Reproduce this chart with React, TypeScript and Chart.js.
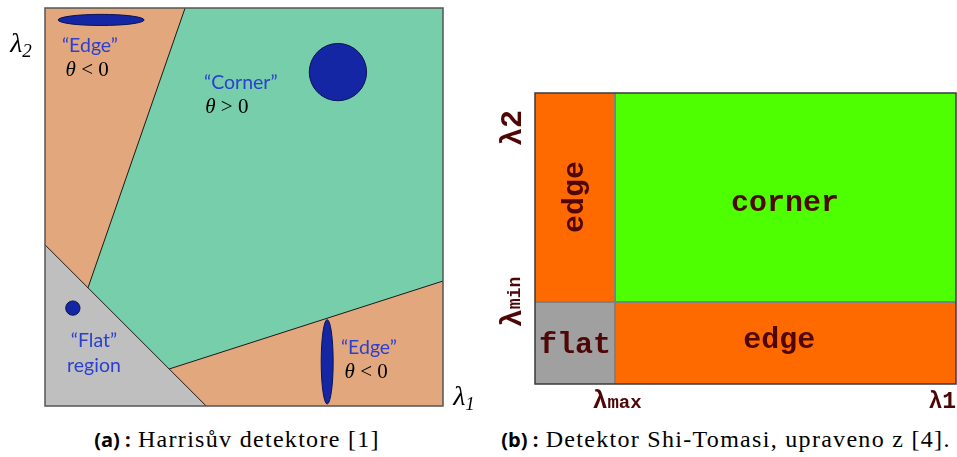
import React, { useEffect, useRef } from "react";
import { Chart, registerables } from "chart.js";
Chart.register(...registerables);

// ---------- Panel (a): Harris regions in (λ1, λ2) space, 0–100 units ----------
const harrisFrame = [[0, 0], [100, 0], [100, 100], [0, 100]];
const harrisCornerRegion = [[35.2, 100], [100, 100], [100, 31.4], [31.2, 9.3], [10.8, 29.7]];
const harrisFlatRegion = [[0, 40.5], [40.5, 0], [0, 0]];
const harrisCornerOutlineA = [[35.2, 100], [10.8, 29.7]];
const harrisCornerOutlineB = [[31.2, 9.3], [100, 31.4]];
const harrisFlatOutline = [[0, 40.5], [40.5, 0]];
// ellipses (centre, half-axes in data units)
const harrisEllipseX = [14.1, 73.6, 7.0, 70.9];
const harrisEllipseY = [97.0, 83.9, 24.6, 11.1];
const harrisEllipseRx = [10.8, 7.2, 1.8, 1.5];
const harrisEllipseRy = [1.4, 7.2, 1.8, 10.6];
// labels
const harrisLabelText = ["\u201CEdge\u201D", "\u201CCorner\u201D", "\u201CFlat\u201D", "region", "\u201CEdge\u201D"];
const harrisLabelX = [11.3, 49.2, 12.3, 12.3, 81.4];
const harrisLabelY = [90.5, 81.2, 16.3, 10.0, 14.6];
const harrisThetaText = ["< 0", "> 0", "< 0"];
const harrisThetaX = [10.6, 45.7, 80.7];
const harrisThetaY = [84.4, 75.1, 8.5];

// ---------- Panel (b): Shi-Tomasi regions ----------
const lambdaMax = 19.0;
const lambdaMin = 28.2;
const stRegionName = ["edge", "corner", "flat", "edge"];
const stRegionX0 = [0, lambdaMax, 0, lambdaMax];
const stRegionX1 = [lambdaMax, 100, lambdaMax, 100];
const stRegionY0 = [lambdaMin, lambdaMin, 0, 0];
const stRegionY1 = [100, 100, lambdaMin, lambdaMin];
const stRegionColor = ["#FF6A00", "#4DFF00", "#A0A0A0", "#FF6A00"];
const stLabelX = [9.5, 59.4, 9.5, 58.0];
const stLabelY = [64.3, 62.2, 13.4, 14.8];
const stXTickValue = [lambdaMax, 100];
const stXTickSub = ["max", "1"];
const stYTickValue = [lambdaMin, 88];
const stYTickSub = ["min", "2"];

type Run = { t: string; font: string; dy?: number };
function drawRuns(ctx: CanvasRenderingContext2D, runs: Run[], x: number, y: number, color: string, align = "center", rot = 0) {
  ctx.save();
  ctx.translate(x, y);
  if (rot) ctx.rotate(rot);
  ctx.fillStyle = color;
  ctx.textBaseline = "middle";
  ctx.textAlign = "left";
  let w = 0;
  runs.forEach((r) => { ctx.font = r.font; w += ctx.measureText(r.t).width; });
  let cx = align === "center" ? -w / 2 : align === "right" ? -w : 0;
  runs.forEach((r) => { ctx.font = r.font; ctx.fillText(r.t, cx, r.dy || 0); cx += ctx.measureText(r.t).width; });
  ctx.restore();
}

const polyFillPlugin = {
  id: "polyFill",
  beforeDatasetsDraw(chart: any) {
    const ctx = chart.ctx;
    chart.data.datasets.forEach((ds: any, i: number) => {
      if (!ds.fillColor) return;
      const meta = chart.getDatasetMeta(i);
      ctx.save();
      ctx.beginPath();
      meta.data.forEach((p: any, j: number) => (j ? ctx.lineTo(p.x, p.y) : ctx.moveTo(p.x, p.y)));
      ctx.closePath();
      ctx.fillStyle = ds.fillColor;
      ctx.fill();
      ctx.restore();
    });
  },
};

const toPts = (arr: number[][]) => arr.map(([x, y]) => ({ x, y }));

const baseOptions = (padding: any) => ({
  responsive: false,
  animation: false as const,
  devicePixelRatio: 1,
  layout: { padding },
  plugins: { legend: { display: false }, tooltip: { enabled: false } },
  scales: {
    x: { type: "linear" as const, min: 0, max: 100, display: false },
    y: { type: "linear" as const, min: 0, max: 100, display: false },
  },
});

const fillDs = (pts: number[][], color: string) => ({
  data: toPts(pts), fillColor: color, showLine: false, pointRadius: 0, clip: false,
});
const lineDs = (pts: number[][], color: string, width: number) => ({
  data: toPts(pts), showLine: true, borderColor: color, borderWidth: width, pointRadius: 0, fill: false, clip: false,
});

const harrisPlugin = {
  id: "harrisDecor",
  afterDatasetsDraw(chart: any) {
    const ctx = chart.ctx;
    const xs = chart.scales.x, ys = chart.scales.y;
    const a = chart.chartArea;
    // ellipses
    harrisEllipseX.forEach((ex, i) => {
      const cx = xs.getPixelForValue(ex), cy = ys.getPixelForValue(harrisEllipseY[i]);
      const rx = Math.abs(xs.getPixelForValue(ex + harrisEllipseRx[i]) - cx);
      const ry = Math.abs(ys.getPixelForValue(harrisEllipseY[i] + harrisEllipseRy[i]) - cy);
      ctx.save();
      ctx.beginPath();
      ctx.ellipse(cx, cy, rx, ry, 0, 0, Math.PI * 2);
      ctx.fillStyle = "#1426A3";
      ctx.fill();
      ctx.lineWidth = 1;
      ctx.strokeStyle = "#0B1450";
      ctx.stroke();
      ctx.restore();
    });
    // frame
    ctx.save();
    ctx.strokeStyle = "#555555";
    ctx.lineWidth = 1.5;
    ctx.strokeRect(a.left, a.top, a.right - a.left, a.bottom - a.top);
    ctx.restore();
    // labels
    harrisLabelText.forEach((t, i) => {
      drawRuns(ctx, [{ t, font: '19.5px Lato' }], xs.getPixelForValue(harrisLabelX[i]), ys.getPixelForValue(harrisLabelY[i]), "#2B40D0");
    });
    harrisThetaText.forEach((t, i) => {
      drawRuns(ctx, [
        { t: "\u03B8", font: 'italic 21px "Liberation Serif"' },
        { t: " " + t, font: '21px "Liberation Serif"' },
      ], xs.getPixelForValue(harrisThetaX[i]), ys.getPixelForValue(harrisThetaY[i]), "#000");
    });
    // axis labels λ2 and λ1
    drawRuns(ctx, [
      { t: "\u03BB", font: 'italic 28px "Liberation Serif"' },
      { t: "2", font: 'italic 19px "Liberation Serif"', dy: 7 },
    ], a.left - 24, ys.getPixelForValue(90.7), "#000");
    drawRuns(ctx, [
      { t: "\u03BB", font: 'italic 28px "Liberation Serif"' },
      { t: "1", font: 'italic 19px "Liberation Serif"', dy: 7 },
    ], a.right + 21, a.bottom - 8, "#000");
  },
};

const stPlugin = {
  id: "stDecor",
  afterDatasetsDraw(chart: any) {
    const ctx = chart.ctx;
    const xs = chart.scales.x, ys = chart.scales.y;
    const a = chart.chartArea;
    ctx.save();
    ctx.strokeStyle = "#3A3A3A";
    ctx.lineWidth = 1.5;
    ctx.strokeRect(a.left, a.top, a.right - a.left, a.bottom - a.top);
    ctx.restore();
    const col = "#4E0606";
    const big = 'bold 30px "Liberation Mono"';
    stRegionName.forEach((t, i) => {
      drawRuns(ctx, [{ t, font: big }], xs.getPixelForValue(stLabelX[i]), ys.getPixelForValue(stLabelY[i]), col, "center", i === 0 ? -Math.PI / 2 : 0);
    });
    // x tick labels
    stXTickValue.forEach((v, i) => {
      const small = stXTickSub[i] === "1";
      drawRuns(ctx, [
        { t: "\u03BB", font: small ? 'bold 23px "Liberation Mono"' : 'bold 25px "Liberation Mono"' },
        { t: stXTickSub[i], font: small ? 'bold 23px "Liberation Mono"' : 'bold 19px "Liberation Mono"', dy: small ? 0 : 1 },
      ], xs.getPixelForValue(v) + (i === 1 ? 0 : 2), a.bottom + 18, col, i === 1 ? "right" : "center");
    });
    // y tick labels (rotated)
    stYTickValue.forEach((v, i) => {
      const same = stYTickSub[i] === "2";
      drawRuns(ctx, [
        { t: "\u03BB", font: 'bold 30px "Liberation Mono"' },
        { t: stYTickSub[i], font: same ? 'bold 30px "Liberation Mono"' : 'bold 18px "Liberation Mono"', dy: same ? 0 : 2 },
      ], a.left - 22, ys.getPixelForValue(v), col, "center", -Math.PI / 2);
    });
  },
};

function HarrisChart() {
  const ref = useRef<HTMLCanvasElement>(null);
  useEffect(() => {
    const chart = new Chart(ref.current as HTMLCanvasElement, {
      type: "scatter",
      data: {
        datasets: [
          fillDs(harrisFrame, "#E2A77D"),
          fillDs(harrisCornerRegion, "#76CEAB"),
          fillDs(harrisFlatRegion, "#BFBFBF"),
          lineDs(harrisCornerOutlineA, "#1A1A1A", 1),
          lineDs(harrisCornerOutlineB, "#1A1A1A", 1),
          lineDs(harrisFlatOutline, "#1A1A1A", 1),
        ] as any,
      },
      options: baseOptions({ left: 45, top: 8, right: 37, bottom: 14 }) as any,
      plugins: [polyFillPlugin, harrisPlugin],
    });
    return () => chart.destroy();
  }, []);
  return <canvas ref={ref} width={480} height={420} style={{ position: "absolute", left: 0, top: 0 }} />;
}

function ShiTomasiChart() {
  const ref = useRef<HTMLCanvasElement>(null);
  useEffect(() => {
    const regions = stRegionName.map((_, i) =>
      fillDs([
        [stRegionX0[i], stRegionY0[i]], [stRegionX1[i], stRegionY0[i]],
        [stRegionX1[i], stRegionY1[i]], [stRegionX0[i], stRegionY1[i]],
      ], stRegionColor[i])
    );
    const chart = new Chart(ref.current as HTMLCanvasElement, {
      type: "scatter",
      data: {
        datasets: [
          ...regions,
          lineDs([[lambdaMax, 0], [lambdaMax, 100]], "#808080", 2),
          lineDs([[0, lambdaMin], [100, lambdaMin]], "#808080", 2),
        ] as any,
      },
      options: baseOptions({ left: 55, top: 23, right: 1, bottom: 36 }) as any,
      plugins: [polyFillPlugin, stPlugin],
    });
    return () => chart.destroy();
  }, []);
  return <canvas ref={ref} width={477} height={350} style={{ position: "absolute", left: 480, top: 70 }} />;
}

const capStyle: React.CSSProperties = {
  position: "absolute", top: 426, textAlign: "center", fontSize: 24, letterSpacing: "1.3px",
  fontFamily: '"Liberation Serif", serif', whiteSpace: "nowrap", color: "#000",
};
const capBold: React.CSSProperties = { fontFamily: '"Open Sans", sans-serif', fontWeight: 700, fontSize: 20, letterSpacing: 0 };

export default function App() {
  return (
    <div style={{ position: "fixed", left: 0, top: 0, width: 957, height: 457, background: "#fff", overflow: "hidden" }}>
      <HarrisChart />
      <ShiTomasiChart />
      <div style={{ ...capStyle, left: 0, width: 474 }}>
        <span style={capBold}>(a) :</span> Harrisův detektore [1]
      </div>
      <div style={{ ...capStyle, left: 497, width: 458 }}>
        <span style={capBold}>(b) :</span> Detektor Shi-Tomasi, upraveno z [4].
      </div>
    </div>
  );
}
